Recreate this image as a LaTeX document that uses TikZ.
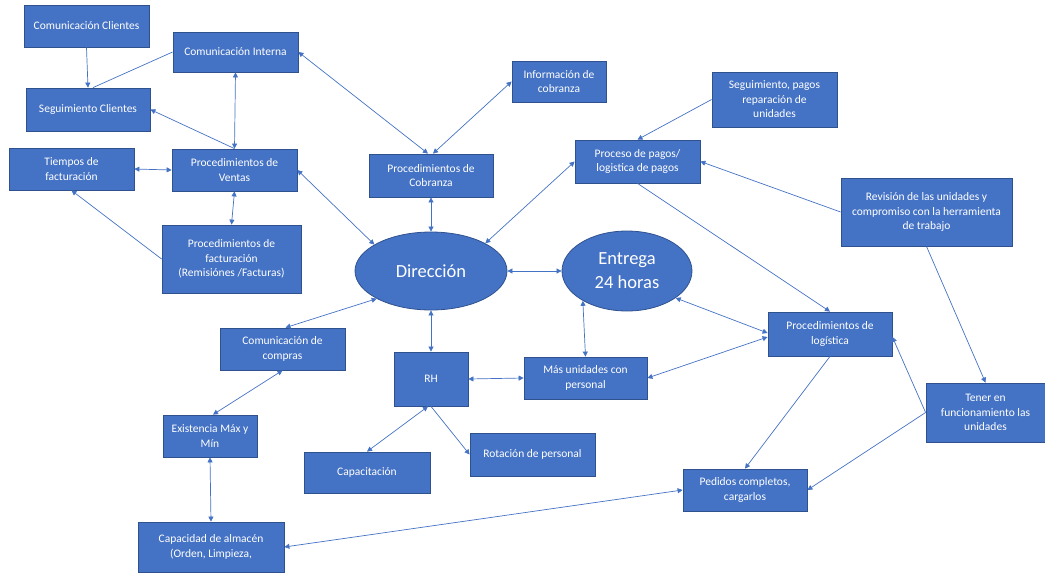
\documentclass[tikz,border=0pt]{standalone}
\usepackage{fontspec}
\setmainfont{Carlito}
\usetikzlibrary{arrows.meta,shapes.geometric,calc}
\definecolor{boxfill}{HTML}{4472C4}
\definecolor{boxline}{HTML}{2F528F}
\definecolor{linkblue}{HTML}{4472C4}

\begin{document}
\begin{tikzpicture}[x=1pt,y=-1pt,
  card/.style={rectangle, fill=boxfill, draw=boxline, line width=0.8pt, text=white,
    align=center, inner sep=2pt, font=\fontsize{11.5}{14.5}\selectfont},
  hub/.style={ellipse, fill=boxfill, draw=boxline, line width=0.8pt, text=white,
    align=center, inner sep=0pt, font=\fontsize{18.5}{24}\selectfont},
  tip/.tip={Triangle[length=5pt,width=5pt]},
  link/.style={draw=linkblue, line width=0.7pt, -tip},
  both/.style={draw=linkblue, line width=0.7pt, tip-tip},
  plain/.style={draw=linkblue, line width=0.7pt}]

\useasboundingbox (0,0) rectangle (1045,574);

% left cluster: sales and customers
\node[card, minimum width=125pt, minimum height=42pt] (cc)  at (86.5,26)   {Comunicación Clientes};
\node[card, minimum width=125pt, minimum height=40pt] (ci)  at (235.5,52)  {Comunicación Interna};
\node[card, minimum width=124pt, minimum height=43pt] (sc)  at (88,109.5)  {Seguimiento Clientes};
\node[card, minimum width=125pt, minimum height=42pt] (tf)  at (71.5,169)  {Tiempos de\\facturación};
\node[card, minimum width=125pt, minimum height=42pt] (pv)  at (234.5,170) {Procedimientos de\\Ventas};
\node[card, minimum width=139pt, minimum height=68pt] (pf)  at (231.5,259) {Procedimientos de\\facturación\\(Remisiónes /Facturas)};

% purchasing and storage
\node[card, minimum width=125pt, minimum height=42pt] (com) at (282.5,349) {Comunicación de\\compras};
\node[card, minimum width=94pt,  minimum height=42pt] (ex)  at (210,436)   {Existencia Máx y\\Mín};
\node[card, minimum width=146pt, minimum height=50pt] (cap) at (211,547)   {Capacidad de almacén\\(Orden, Limpieza,};

% staff
\node[card, minimum width=126pt, minimum height=41pt] (capa) at (367,472.5) {Capacitación};
\node[card, minimum width=74pt,  minimum height=54pt] (rh)   at (431,379)   {RH};
\node[card, minimum width=125pt, minimum height=43pt] (rot)  at (532.5,454.5) {Rotación de personal};
\node[card, minimum width=123pt, minimum height=42pt] (mu)   at (585.5,378) {Más unidades con\\personal};

% collections and payments
\node[card, minimum width=124pt, minimum height=43pt] (pc)  at (431,175.5) {Procedimientos de\\Cobranza};
\node[card, minimum width=94pt,  minimum height=41pt] (ic)  at (559,81.5)  {Información de\\cobranza};
\node[card, minimum width=125pt, minimum height=43pt] (pp)  at (637.5,161.5) {Proceso de pagos/\\logistica de pagos};
\node[card, minimum width=125pt, minimum height=55pt] (sp)  at (774.5,99.5) {Seguimiento, pagos\\reparación de\\unidades};
\node[card, minimum width=171pt, minimum height=68pt] (rev) at (926.5,212) {Revisión de las unidades y\\compromiso con la herramienta\\de trabajo};

% logistics
\node[card, minimum width=124pt, minimum height=44pt] (pl)  at (830,334)   {Procedimientos de\\logística};
\node[card, minimum width=119pt, minimum height=59pt] (te)  at (985.5,412.5) {Tener en\\funcionamiento las\\unidades};
\node[card, minimum width=124pt, minimum height=42pt] (pe)  at (745,490)   {Pedidos completos,\\cargarlos};

% central hubs
\node[hub, minimum width=152pt, minimum height=78pt] (dir) at (431,271) {Dirección};
\node[hub, minimum width=130pt, minimum height=80pt] (ent) at (627,271) {Entrega\\24 horas};

% connectors
\draw[link]  (cc.south) -- (sc.north);
\draw[plain] (ci.west) -- ($(sc.north)+(5,0)$);
\draw[link]  (pv.north) -- (sc.east);
\draw[both]  (ci.south) -- (pv.north);
\draw[both]  (tf.east) -- (pv.west);
\draw[link]  (pf.west) -- (tf.south);
\draw[both]  (pv.south) -- (pf.north);

\draw[both]  (ci.east) -- ($(pc.north)+(-3,0)$);
\draw[both]  ($(pc.north)+(2,0)$) -- (ic.west);
\draw[both]  (pv.east) -- (dir.155);
\draw[both]  (pc.south) -- (dir.north);
\draw[both]  (dir.27) -- (pp.west);
\draw[link]  (sp.west) -- (pp.north);
\draw[link]  (rev.west) -- (pp.east);
\draw[link]  (pp.south) -- (pl.north);

\draw[both]  (dir.east) -- (ent.west);
\draw[both]  (ent.-29) -- ($(pl.west)+(0,-1)$);
\draw[both]  (ent.214) -- (mu.north);
\draw[both]  (mu.east) -- ($(pl.west)+(0,3)$);
\draw[both]  (rh.east) -- (mu.west);
\draw[both]  (dir.south) -- (rh.north);
\draw[both]  ($(rh.south)+(-3,0)$) -- (capa.north);
\draw[link]  (rh.south) -- (rot.west);

\draw[both]  (dir.207) -- ($(com.north)+(3,0)$);
\draw[both]  (com.south) -- ($(ex.north)+(3,0)$);
\draw[both]  (ex.south) -- (cap.north);
\draw[both]  (cap.east) -- (pe.west);

\draw[link]  (pl.south) -- (pe.north);
\draw[link]  (te.west) -- ($(pl.east)+(0,3)$);
\draw[link]  (te.west) -- (pe.east);
\draw[link]  (rev.south) -- (te.north);
\end{tikzpicture}
\end{document}
